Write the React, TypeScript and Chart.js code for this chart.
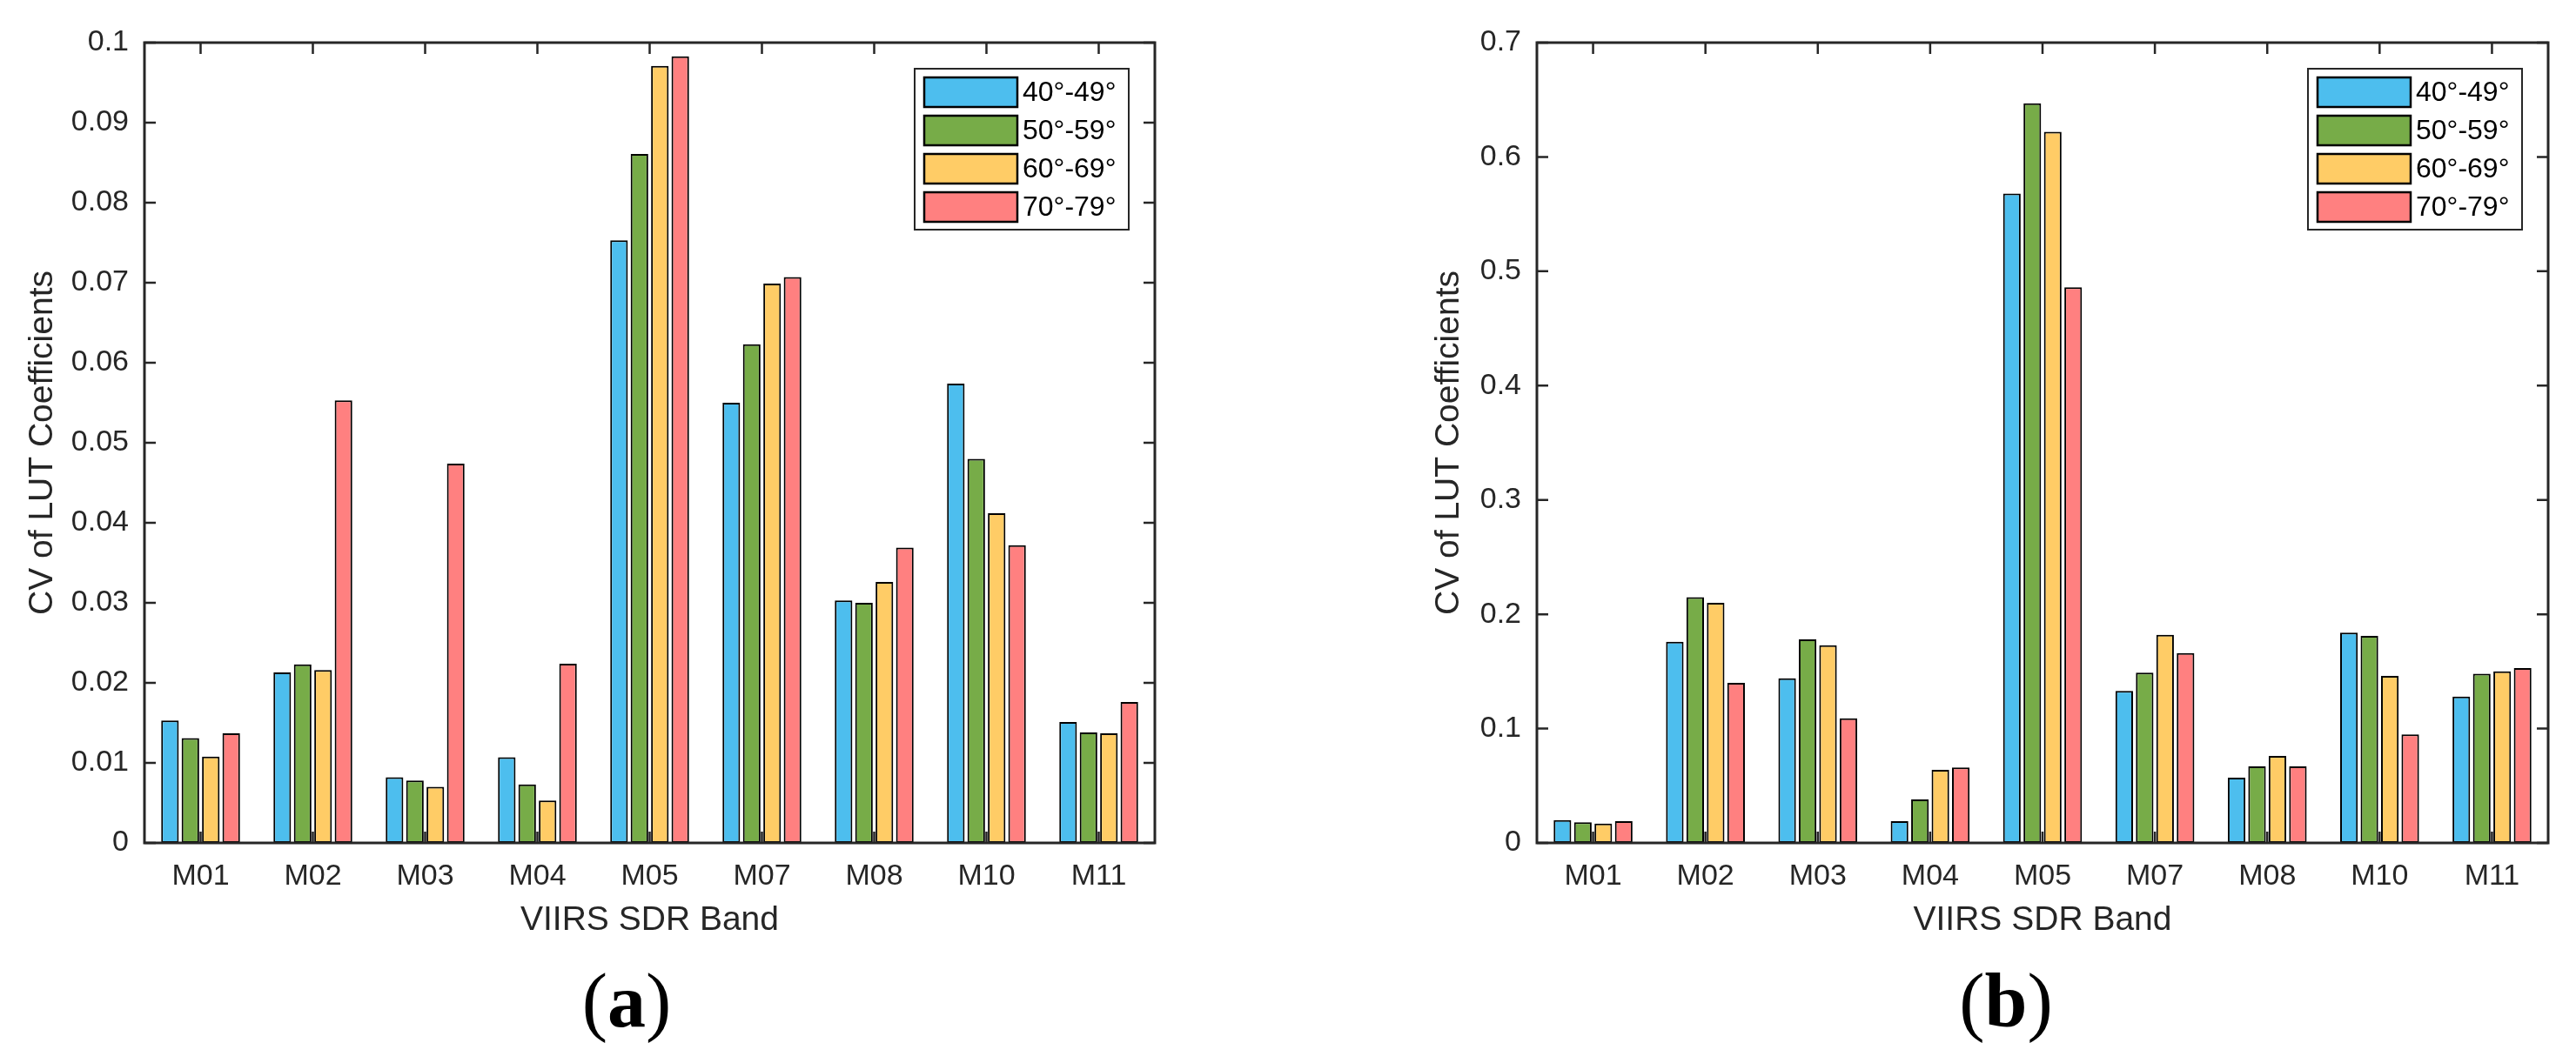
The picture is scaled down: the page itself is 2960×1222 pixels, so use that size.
import { useEffect, useRef } from "react";
import { Chart, registerables, type Plugin } from "chart.js";

Chart.register(...registerables);

// bands on the x axis
const bands = ["M01", "M02", "M03", "M04", "M05", "M07", "M08", "M10", "M11"];
const seriesNames = ["40°-49°", "50°-59°", "60°-69°", "70°-79°"];
const seriesColors = ["#4DBEEE", "#77AC48", "#FFCC66", "#FF8080"];

// panel (a)
const a40 = [0.0153, 0.0213, 0.0082, 0.0107, 0.0753, 0.055, 0.0303, 0.0574, 0.0151];
const a50 = [0.0131, 0.0223, 0.0078, 0.0073, 0.0861, 0.0623, 0.03, 0.048, 0.0138];
const a60 = [0.0108, 0.0216, 0.007, 0.0053, 0.0971, 0.0699, 0.0326, 0.0412, 0.0137];
const a70 = [0.0137, 0.0553, 0.0474, 0.0224, 0.0983, 0.0707, 0.0369, 0.0372, 0.0176];

// panel (b)
const b40 = [0.02, 0.176, 0.144, 0.019, 0.568, 0.133, 0.057, 0.184, 0.128];
const b50 = [0.018, 0.215, 0.178, 0.038, 0.647, 0.149, 0.067, 0.181, 0.148];
const b60 = [0.017, 0.21, 0.173, 0.064, 0.622, 0.182, 0.076, 0.146, 0.15];
const b70 = [0.019, 0.14, 0.109, 0.066, 0.486, 0.166, 0.067, 0.095, 0.153];

const AXIS = "#262626";
const FONT = "'Liberation Sans', Arial, Helvetica, sans-serif";
const TICK = 13;

// box, inward ticks on all four sides and the legend in the top right corner (MATLAB look)
const framePlugin: Plugin<"bar"> = {
  id: "frame",
  afterDatasetsDraw(chart) {
    const { ctx, chartArea: a } = chart;
    const x = chart.scales.x;
    const y = chart.scales.y;
    ctx.save();
    ctx.strokeStyle = AXIS;
    ctx.lineWidth = 2.5;
    ctx.beginPath();
    x.ticks.forEach((_, i) => {
      const px = x.getPixelForTick(i);
      ctx.moveTo(px, a.bottom);
      ctx.lineTo(px, a.bottom - TICK);
      ctx.moveTo(px, a.top);
      ctx.lineTo(px, a.top + TICK);
    });
    y.ticks.forEach((_, i) => {
      const py = y.getPixelForTick(i);
      ctx.moveTo(a.left, py);
      ctx.lineTo(a.left + TICK, py);
      ctx.moveTo(a.right, py);
      ctx.lineTo(a.right - TICK, py);
    });
    ctx.stroke();
    ctx.lineWidth = 3;
    ctx.strokeRect(a.left, a.top, a.right - a.left, a.bottom - a.top);

    // legend
    const lw = 246;
    const lh = 185;
    const lx = a.right - 30 - lw;
    const ly = a.top + 30;
    ctx.fillStyle = "#fff";
    ctx.fillRect(lx, ly, lw, lh);
    ctx.lineWidth = 2;
    ctx.strokeRect(lx, ly, lw, lh);
    ctx.font = `32px ${FONT}`;
    ctx.textBaseline = "middle";
    ctx.textAlign = "left";
    chart.data.datasets.forEach((ds, i) => {
      const sy = ly + 10 + i * 44;
      ctx.fillStyle = ds.backgroundColor as string;
      ctx.fillRect(lx + 11, sy, 107, 34);
      ctx.strokeStyle = "#000";
      ctx.lineWidth = 2.5;
      ctx.strokeRect(lx + 11, sy, 107, 34);
      ctx.fillStyle = "#000";
      ctx.fillText(ds.label ?? "", lx + 124, sy + 18);
    });
    ctx.restore();
  },
};

type PanelProps = {
  series: number[][];
  yMax: number;
  step: number;
  decimals: number;
  padLeft: number;
  axisWidth: number;
  padRight: number;
  titlePad: number;
};

function BarPanel({ series, yMax, step, decimals, padLeft, axisWidth, padRight, titlePad }: PanelProps) {
  const canvasRef = useRef<HTMLCanvasElement>(null);

  useEffect(() => {
    const canvas = canvasRef.current;
    if (!canvas) return;
    const chart = new Chart(canvas, {
      type: "bar",
      data: {
        labels: bands,
        datasets: series.map((values, i) => ({
          label: seriesNames[i],
          data: values,
          backgroundColor: seriesColors[i],
          borderColor: "#000",
          borderWidth: 2,
          borderSkipped: false,
          categoryPercentage: 0.7273,
          barPercentage: 0.86,
        })),
      },
      options: {
        responsive: false,
        devicePixelRatio: 1,
        animation: false,
        layout: { padding: { left: padLeft, right: padRight, top: 49, bottom: 0 } },
        plugins: { legend: { display: false }, tooltip: { enabled: false } },
        scales: {
          x: {
            grid: { display: false, drawTicks: false },
            border: { display: false },
            ticks: { color: AXIS, padding: 22, font: { family: FONT, size: 34, lineHeight: 1 } },
            title: {
              display: true,
              text: "VIIRS SDR Band",
              color: AXIS,
              font: { family: FONT, size: 39, lineHeight: 1 },
              padding: { top: 0, bottom: 22 },
            },
            afterFit: (scale) => {
              scale.height = 131;
            },
          },
          y: {
            min: 0,
            max: yMax,
            grid: { display: false, drawTicks: false },
            border: { display: false },
            ticks: {
              stepSize: step,
              color: AXIS,
              padding: 18,
              font: { family: FONT, size: 34, lineHeight: 1 },
              callback: (v) => String(Number(Number(v).toFixed(decimals))),
            },
            title: {
              display: true,
              text: "CV of LUT Coefficients",
              color: AXIS,
              font: { family: FONT, size: 39, lineHeight: 1 },
              padding: { top: titlePad, bottom: 0 },
            },
            afterFit: (scale) => {
              scale.width = axisWidth;
            },
          },
        },
      },
      plugins: [framePlugin],
    });
    return () => chart.destroy();
  }, [series, yMax, step, decimals, padLeft, axisWidth, padRight, titlePad]);

  return <canvas ref={canvasRef} width={1480} height={1100} style={{ display: "block" }} />;
}

const captionStyle = {
  position: "absolute" as const,
  top: 1107,
  width: 200,
  textAlign: "center" as const,
  fontFamily: "'Liberation Serif', 'Times New Roman', serif",
  fontSize: 88,
  lineHeight: "88px",
  color: "#000",
};

const seriesA = [a40, a50, a60, a70];
const seriesB = [b40, b50, b60, b70];

export default function App() {
  return (
    <div style={{ position: "fixed", left: 0, top: 0, width: 2960, height: 1222, background: "#fff" }}>
      <div style={{ position: "absolute", left: 0, top: 0 }}>
        <BarPanel series={seriesA} yMax={0.1} step={0.01} decimals={2} padLeft={0} axisWidth={166} padRight={153} titlePad={30} />
      </div>
      <div style={{ position: "absolute", left: 1480, top: 0 }}>
        <BarPanel series={seriesB} yMax={0.7} step={0.1} decimals={1} padLeft={166} axisWidth={120} padRight={32} titlePad={0} />
      </div>
      <div style={{ ...captionStyle, left: 720 - 100 }}>
        (<b>a</b>)
      </div>
      <div style={{ ...captionStyle, left: 2305 - 100 }}>
        (<b>b</b>)
      </div>
    </div>
  );
}
